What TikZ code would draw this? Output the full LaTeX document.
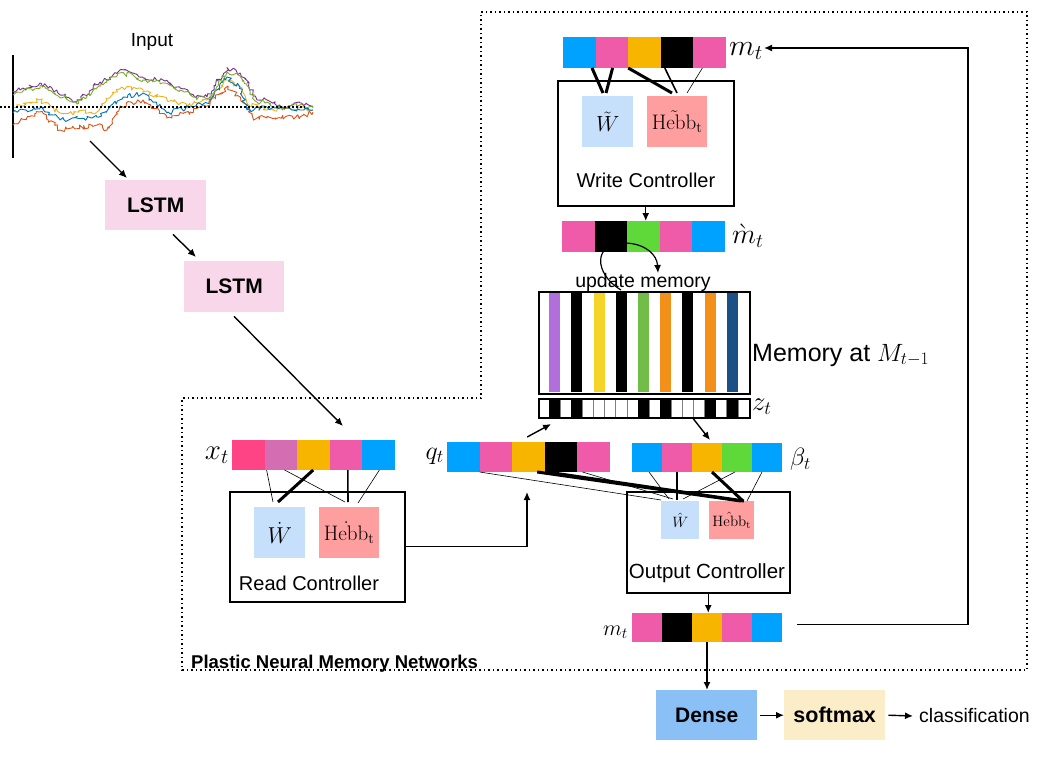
\RequirePackage{fix-cm}
\documentclass[tikz,border=0pt]{standalone}
\usepackage[no-math]{fontspec}
\setmainfont{Liberation Sans}
\usetikzlibrary{arrows.meta,decorations.pathmorphing,calc}
\definecolor{cBlue}{HTML}{00A2FF}
\definecolor{cPink}{HTML}{EF5BA8}
\definecolor{cAmber}{HTML}{F7B500}
\definecolor{cHot}{HTML}{FF4485}
\definecolor{cOrchid}{HTML}{D56DB2}
\definecolor{cGreen}{HTML}{5FD93A}
\definecolor{cW}{HTML}{C6DFFB}
\definecolor{cH}{HTML}{FF9E9E}
\definecolor{cLstm}{HTML}{F8D7EA}
\definecolor{cDense}{HTML}{8BC0F7}
\definecolor{cSoft}{HTML}{FAEDC8}
\definecolor{cPur}{HTML}{B06FDB}
\definecolor{cYel}{HTML}{F5D327}
\definecolor{cGrn}{HTML}{72BD47}
\definecolor{cOrg}{HTML}{F39019}
\definecolor{cNavy}{HTML}{1B5087}
\definecolor{sBlue}{HTML}{0072BD}
\definecolor{sOrange}{HTML}{D95319}
\definecolor{sYellow}{HTML}{EDB120}
\definecolor{sPurple}{HTML}{7E2F8E}
\definecolor{sGreen}{HTML}{77AC30}
\newcommand\vbar[6]{\foreach \c [count=\i] in {#6} \node[fill=\c, minimum width=#4, minimum height=#5, inner sep=0, outer sep=0, anchor=north west] (#1\i) at ({#2+(\i-1)*#4},#3) {};}
\newcommand\fs[1]{\fontsize{#1}{#1}\selectfont}
\begin{document}
\begin{tikzpicture}[x=1pt,y=-1pt, font=\fs{20},
  arr/.style={-{Latex[length=8pt,width=7pt]}, line width=1.4pt},
  ln/.style={line width=1.4pt},
  wthin/.style={line width=0.6pt},
  wmed/.style={line width=1.6pt},
  wthick/.style={line width=3pt},
  ctrl/.style={draw, line width=1.5pt, inner sep=0, anchor=north west},
  wbox/.style={fill=cW, inner sep=0, anchor=north west},
  hbox/.style={fill=cH, inner sep=0, anchor=north west},
  flat/.style={inner sep=0, anchor=north west},
  sig/.style={line width=0.9pt, line join=round, decorate, decoration={random steps, segment length=2.2pt, amplitude=2.4pt}},
  lab/.style={inner sep=1pt}]
\useasboundingbox (0,0) rectangle (1039,779);

% ---------- input signals ----------
\pgfmathsetseed{7}
\node (inlab) at (152,42) {\fs{19}Input};
\draw[line width=1.6pt] (13,55) -- (13,158);
\draw[sig, sOrange] plot coordinates {(13,125) (40,112) (60,130) (97,125) (107,130) (120,106) (143,100) (167,118) (190,112) (207,106) (227,87) (240,97) (253,118) (267,118) (300,117) (313,112)};
\draw[sig, sYellow] plot coordinates {(13,107) (40,100) (60,113) (97,112) (107,100) (122,87) (143,90) (167,100) (190,105) (207,100) (227,80) (240,87) (247,103) (267,110) (300,108) (313,110)};
\draw[sig, sBlue] plot coordinates {(13,113) (40,107) (60,120) (97,117) (110,107) (123,97) (143,93) (167,113) (190,107) (207,103) (227,77) (240,87) (247,110) (267,107) (300,110) (313,110)};
\draw[sig, sPurple] plot coordinates {(13,92) (40,83) (77,102) (100,82) (107,80) (120,70) (133,73) (143,78) (160,80) (180,88) (193,95) (207,97) (227,68) (240,73) (247,83) (257,100) (267,100) (283,107) (300,103) (313,107)};
\draw[sig, sGreen] plot coordinates {(13,95) (40,86) (77,104) (100,85) (107,82) (120,73) (133,75) (143,80) (160,82) (180,90) (193,97) (207,99) (227,72) (240,76) (247,86) (257,102) (267,102) (283,108) (300,105) (313,108)};
\draw[dash pattern=on 1.5pt off 2.5pt, line width=1.5pt] (0,107) -- (305,107);
\coordinate (inp) at (90,141);

% ---------- LSTM ----------
\node[fill=cLstm, flat, minimum width=101, minimum height=50] (l1) at (105,180) {};
\node at (l1.center) {\fs{21}\bfseries LSTM};
\node[fill=cLstm, flat, minimum width=100, minimum height=51] (l2) at (184,261) {};
\node at (l2.center) {\fs{21}\bfseries LSTM};
\coordinate (l2end) at (343,426);
\draw[arr] (inp) -- ($(l1.north west)+(22,-2)$);
\draw[arr] ($(l1.south west)+(68,4)$) -- ($(l2.north west)+(12,-4)$);
\draw[arr] ($(l2.south west)+(50,4)$) -- (l2end);

% ---------- dotted frame ----------
\draw[dash pattern=on 1.5pt off 3pt, line width=1.6pt] (481,12) -- (1027,12) -- (1027,670) -- (182,670) -- (182,398) -- (481,398) -- cycle;
\node[anchor=base west, inner sep=0] (pnmn) at (191,668) {\fs{18.5}\bfseries Plastic Neural Memory Networks};

% ---------- read controller ----------
\vbar{x}{232}{440}{32.6}{30}{cHot,cOrchid,cAmber,cPink,cBlue}
\node[anchor=east, lab] (xl) at (230,455) {\fs{29}$x_t$};
\node[ctrl, minimum width=175, minimum height=110] (rc) at (229,491) {};
\node[wbox, minimum width=51, minimum height=51] (rW) at (254,507) {\fs{23}$\dot{W}$};
\node[hbox, minimum width=60, minimum height=51] (rH) at (319,507) {\fs{21}$\dot{\mathrm{Hebb}}_{\mathrm{t}}$};
\node (rcl) at (309,583) {Read Controller};
\draw[wthin]  ($(x2.south west)+(2,0)$)  -- ($(rW.north west)+(19,-5)$);
\draw[wthick] ($(x3.south west)+(16,0)$) -- ($(rW.north west)+(24,-5)$);
\draw[wthin]  ($(x2.south west)+(20,0)$) -- ($(rH.north west)+(26,-5)$);
\draw[wmed]   ($(x4.south west)+(18,0)$) -- ($(rH.north west)+(29,-5)$);
\draw[wthin]  ($(x5.south west)+(17,0)$) -- ($(rH.north west)+(39,-4)$);

% ---------- q_t ----------
\vbar{q}{447}{442}{32.6}{30}{cBlue,cPink,cAmber,black,cPink}
\node[anchor=east, lab] (ql) at (445,456) {\fs{26}$q_t$};
\coordinate (qin) at (527,492);
\draw[arr] (rc.east) -| (qin);

% ---------- write controller ----------
\vbar{mt}{563}{37}{32.6}{31}{cBlue,cPink,cAmber,black,cPink}
\node[anchor=west, lab] (mtl) at (728,51) {\fs{30}$m_t$};
\node[ctrl, minimum width=176, minimum height=125] (wc) at (557,80) {};
\node[wbox, minimum width=51, minimum height=51] (wW) at (582,96) {\fs{22}$\tilde{W}$};
\node[hbox, minimum width=60, minimum height=51] (wH) at (647,96) {\fs{21}$\tilde{\mathrm{Hebb}}_{\mathrm{t}}$};
\node (wcl) at (646,180) {Write Controller};
\draw[wthick] ($(mt1.south west)+(29,0)$) -- ($(wW.north west)+(21,-3)$);
\draw[wthick] ($(mt2.south west)+(17,0)$) -- ($(wW.north west)+(24,-3)$);
\draw[wthick] ($(mt3.south west)+(0,0)$)  -- ($(wH.north west)+(25,-3)$);
\draw[wmed]   ($(mt4.south west)+(4,0)$)  -- ($(wH.north west)+(30,-3)$);
\draw[wthin]  ($(mt5.south west)+(9,0)$)  -- ($(wH.north west)+(40,-3)$);

% ---------- m grave ----------
\vbar{mg}{562}{221}{32.6}{31}{cPink,black,cGreen,cPink,cBlue}
\node[anchor=west, lab] (mgl) at (731,236) {\fs{28}$\grave{m}_t$};
\draw[arr] (wc.south) -- (wc.south |- mg3.north);

% ---------- memory ----------
\foreach \k/\c in {1/cPur,3/black,5/cYel,7/black,9/cGrn,11/cOrg,13/black,15/cOrg,17/cNavy}
  \fill[\c] ({538+\k*11.105},292) rectangle ({538+(\k+1)*11.105},392);
\node[ctrl, minimum width=211, minimum height=102] (mem) at (538,291) {};
\node[anchor=west, lab] (meml) at (751,355) {\fs{25}Memory at $M_{t-1}$};
\foreach \k in {0,...,18}
  \node[draw=gray, fill=white, line width=0.6pt, minimum width=11.105, minimum height=19, inner sep=0, outer sep=0, anchor=north west] (z\k) at ({538+\k*11.105},398) {};
\foreach \k in {1,3,9,11,15,17}
  \fill (z\k.north west) rectangle (z\k.south east);
\node[ctrl, minimum width=211, minimum height=19] (zt) at (538,398) {};
\node[anchor=west, lab] (ztl) at (751,407) {\fs{27}$z_t$};
\coordinate (u1) at (621,290);
\coordinate (u2) at (658,273);
\draw[arr, line width=1.2pt] (u1) .. controls (594,274) and (592,242) .. (626,243) .. controls (646,244) and (657,255) .. (u2);
\node (upd) at (643,282) {\fs{19.5}update memory};

% ---------- beta ----------
\vbar{b}{632}{443}{30}{29}{cBlue,cPink,cAmber,cGreen,cBlue}
\node[anchor=west, lab] (bl) at (789,459) {\fs{25}$\beta_t$};
\draw[arr] ($(q3.north west)+(15,-5)$) -- ($(z1.south west)+(2,7)$);
\draw[arr] ($(z14.south west)+(0,2)$) -- ($(b3.north west)+(18,-3)$);

% ---------- output controller ----------
\node[ctrl, minimum width=163, minimum height=101] (oc) at (626,491) {};
\node[wbox, minimum width=38, minimum height=38] (oW) at (661,501) {\fs{15}$\hat{W}$};
\node[hbox, minimum width=45, minimum height=38] (oH) at (709,501) {\fs{15}$\hat{\mathrm{Hebb}}_{\mathrm{t}}$};
\node (ocl) at (707,573) {\fs{20.5}Output Controller};
\draw[wthin]  (q2.south west) -- ($(oW.north west)+(0,-1)$);
\draw[wthick] ($(q3.south west)+(25,0)$) -- ($(oH.north west)+(32,0)$);
\draw[wthick] ($(q4.south west)+(2,0)$)  -- ($(oH.north west)+(35,0)$);
\draw[wthin]  ($(q5.south west)+(5,0)$)  -- ($(oW.north west)+(12,-2)$);
\draw[wthin]  ($(b1.south west)+(17,0)$) -- ($(oW.north west)+(8,-2)$);
\draw[wmed]   ($(b2.south west)+(15,0)$) -- ($(oW.north west)+(16,-1)$);
\draw[wthin]  ($(b4.south west)+(13,0)$) -- ($(oW.north west)+(22,-2)$);
\draw[wthick] ($(b3.south west)+(20,0)$) -- ($(oH.north west)+(34,0)$);
\draw[wthin]  ($(b5.south west)+(10,0)$) -- ($(oH.north west)+(38,0)$);

% ---------- output m_t ----------
\vbar{mb}{632}{613}{30}{29}{cPink,black,cAmber,cPink,cBlue}
\node[anchor=east, lab] (mbl) at (629,632) {\fs{22}$m_t$};
\draw[arr] (oc.south) -- (oc.south |- mb3.north);
\node[fill=cDense, flat, minimum width=101, minimum height=50] (dense) at (656,690) {\fs{21}\bfseries Dense};
\node[fill=cSoft, flat, minimum width=101, minimum height=50] (soft) at (784,690) {\fs{21.5}\bfseries softmax};
\node[anchor=west, inner sep=0] (cls) at (919,716) {\fs{19.5}classification};
\draw[arr] (mb3.south) -- (mb3.south |- dense.north);
\draw[arr] ($(dense.east)+(3,0)$) -- (soft.west);
\draw[arr] ($(soft.east)+(3,0)$) -- ($(cls.west)+(-6,0)$);
\coordinate (fbc) at (968,48);
\draw[arr] ($(mb5.east)+(15,-3)$) -| (fbc) -- (mtl.east |- fbc);
\end{tikzpicture}
\end{document}
